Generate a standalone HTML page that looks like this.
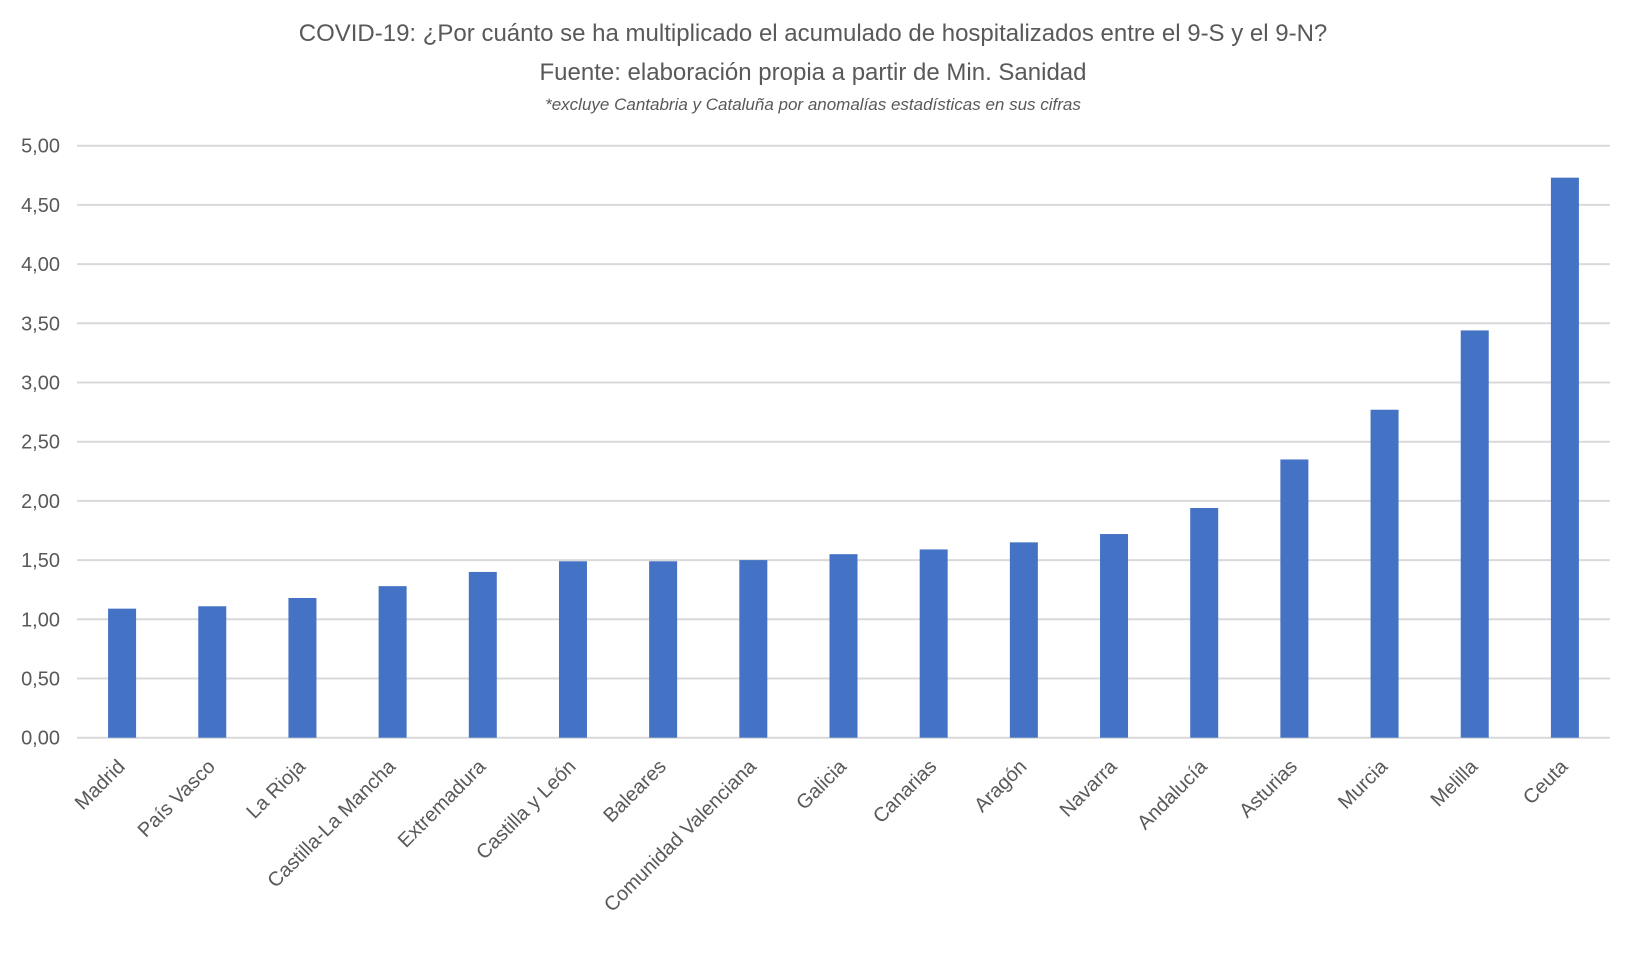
<!DOCTYPE html>
<html><head><meta charset="utf-8"><style>
body{margin:0;background:#fff;}
svg{display:block;font-family:"Liberation Sans",sans-serif;}
</style></head><body>
<svg id="chart" width="1626" height="959" viewBox="0 0 1626 959">
<text x="813" y="41" text-anchor="middle" font-size="24" fill="#595959">COVID-19: ¿Por cuánto se ha multiplicado el acumulado de hospitalizados entre el 9-S y el 9-N?</text>
<text x="813" y="80" text-anchor="middle" font-size="24" fill="#595959">Fuente: elaboración propia a partir de Min. Sanidad</text>
<text x="813" y="110" text-anchor="middle" font-size="17" font-style="italic" fill="#595959">*excluye Cantabria y Cataluña por anomalías estadísticas en sus cifras</text>
<g id="grid"></g><g id="bars"></g><g id="ylabels"></g><g id="xlabels"></g>
</svg>
<script>
const categories=["Madrid","País Vasco","La Rioja","Castilla-La Mancha","Extremadura","Castilla y León","Baleares","Comunidad Valenciana","Galicia","Canarias","Aragón","Navarra","Andalucía","Asturias","Murcia","Melilla","Ceuta"];
const values=[1.09,1.11,1.18,1.28,1.40,1.49,1.49,1.50,1.55,1.59,1.65,1.72,1.94,2.35,2.77,3.44,4.73];
const yTicks=[0,0.5,1,1.5,2,2.5,3,3.5,4,4.5,5];
const yTickLabels=["0,00","0,50","1,00","1,50","2,00","2,50","3,00","3,50","4,00","4,50","5,00"];
const NS="http://www.w3.org/2000/svg";
const L=77,R=1610,T=145.7,B=737.7,yMax=5;
const bw=(R-L)/categories.length;
const y=v=>B-(v/yMax)*(B-T);
const xc=i=>L+bw*(i+0.5);
function mk(t,a,p){const e=document.createElementNS(NS,t);for(const k in a)e.setAttribute(k,a[k]);p.appendChild(e);return e;}
const g=document.getElementById('grid'),bg=document.getElementById('bars'),yl=document.getElementById('ylabels'),xl=document.getElementById('xlabels');
yTicks.forEach((t,i)=>{
 const ln=mk('line',{x1:L,x2:R,y1:y(t),y2:y(t),stroke:'#d9d9d9','stroke-width':2},g);
 
 
 const tx=mk('text',{x:60,y:y(t)+7,'text-anchor':'end','font-size':20,fill:'#595959'},yl);
 tx.textContent=yTickLabels[i];
 
 
});
categories.forEach((c,i)=>{
 const w=28;
 const r=mk('rect',{x:xc(i)-w/2,y:y(values[i]),width:w,height:B-y(values[i]),fill:'#4472c4'},bg);
 
 
 const tx=mk('text',{x:0,y:0,'text-anchor':'end','font-size':20,fill:'#595959',transform:`translate(${xc(i)+4},${B+30}) rotate(-45)`},xl);
 tx.textContent=c;
 
 
});
</script>
</body></html>
